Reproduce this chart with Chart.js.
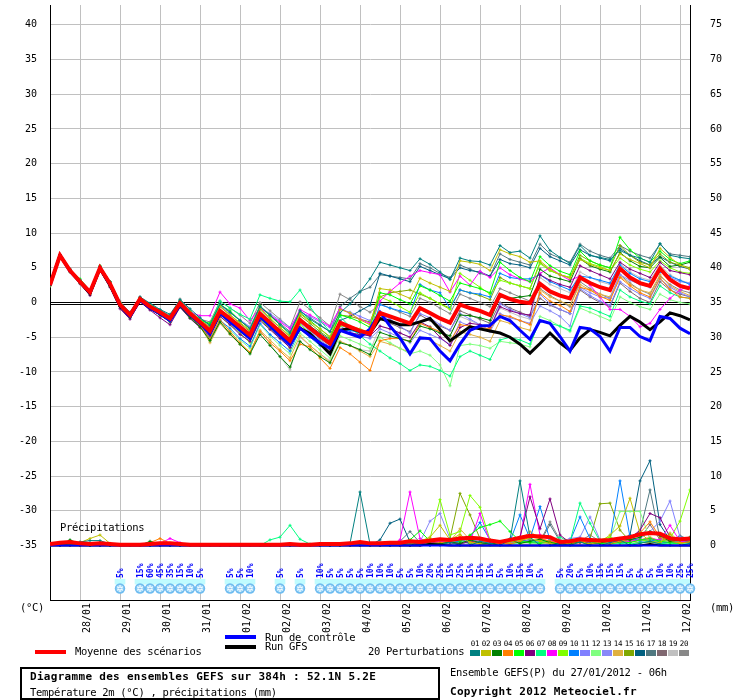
<!DOCTYPE html>
<html lang="fr"><head><meta charset="utf-8"><title>GEFS</title>
<script src="https://cdn.jsdelivr.net/npm/chart.js@4.4.1/dist/chart.umd.min.js"></script>
<style>
html,body{margin:0;padding:0;background:#fff;}
#wrap{position:relative;width:740px;height:700px;overflow:hidden;font-family:"DejaVu Sans Mono",monospace;color:#000;}
#c{position:absolute;left:0;top:0;}
.t{position:absolute;white-space:pre;font-size:10.5px;line-height:12px;letter-spacing:-0.3px;}
.b{font-weight:bold;font-size:11px;letter-spacing:0.3px;}
.sw{position:absolute;}
.box{position:absolute;left:20px;top:667px;width:420px;height:33px;border:2px solid #000;box-sizing:border-box;}
.num{position:absolute;top:640px;font-size:7.5px;line-height:8px;width:11px;text-align:center;letter-spacing:-0.3px;}
.cb{position:absolute;top:650px;width:10px;height:6px;}
</style></head><body>
<div id="wrap">
<canvas id="c" width="740" height="700"></canvas>
<div class="t" style="left:60px;top:521px">Précipitations</div>
<div class="t" style="left:20px;top:601px">(°C)</div>
<div class="t" style="left:710px;top:601px">(mm)</div>
<div class="sw" style="left:225px;top:635px;width:31px;height:4px;background:#0000ff"></div>
<div class="t" style="left:265px;top:631px">Run de contrôle</div>
<div class="sw" style="left:225px;top:645px;width:31px;height:4px;background:#000"></div>
<div class="t" style="left:265px;top:640px">Run GFS</div>
<div class="sw" style="left:35px;top:650px;width:31px;height:4px;background:#ff0000"></div>
<div class="t" style="left:75px;top:645px">Moyenne des scénarios</div>
<div class="t" style="left:368px;top:645px">20 Perturbations</div>
<div id="pleg"></div>
<div class="box"></div>
<div class="t b" style="left:30px;top:671px">Diagramme des ensembles GEFS sur 384h : 52.1N 5.2E</div>
<div class="t" style="left:30px;top:686px">Température 2m (°C) , précipitations (mm)</div>
<div class="t" style="left:450px;top:666px">Ensemble GEFS(P) du 27/01/2012 - 06h</div>
<div class="t b" style="left:450px;top:686px">Copyright 2012 Meteociel.fr</div>
</div>
<script>
// ---------- axis ticks / labels ----------
const dayLabels = ["28/01","29/01","30/01","31/01","01/02","02/02","03/02","04/02","05/02","06/02","07/02","08/02","09/02","10/02","11/02","12/02"];
const dayTickSteps = [3,7,11,15,19,23,27,31,35,39,43,47,51,55,59,63];
const tempTicks = [-35,-30,-25,-20,-15,-10,-5,0,5,10,15,20,25,30,35,40];
const precipTicks = [0,5,10,15,20,25,30,35,40,45,50,55,60,65,70,75];

// ---------- temperature (°C), 6-hourly, 65 steps ----------
const MEAN_T = [2.5,6.8,4.6,3.0,1.5,5.0,2.7,-0.3,-1.8,0.5,-0.6,-1.4,-2.3,-0.1,-1.6,-2.8,
 -4.1,-1.2,-2.3,-3.5,-4.7,-1.6,-2.9,-4.2,-5.5,-2.5,-3.7,-4.8,-5.9,-2.9,-3.5,-4.1,-4.5,
 -1.5,-2.0,-2.5,-3.0,-0.8,-1.5,-2.3,-2.9,-0.3,-0.8,-1.2,-1.8,1.1,0.5,0.1,-0.1,
 2.7,1.6,1.0,0.6,3.6,2.8,2.2,1.8,4.9,3.6,2.8,2.4,4.9,3.3,2.4,2.0];
const CONTROL_T = [2.5,6.8,4.5,3.0,1.4,5.0,2.6,-0.4,-2.0,0.4,-0.8,-1.6,-2.6,-0.3,-1.8,-3.0,
 -4.5,-1.5,-2.8,-4.0,-5.2,-2.0,-3.4,-4.8,-6.1,-3.7,-4.8,-5.8,-6.6,-4.0,-4.5,-5.0,-3.8,
 -1.4,-3.4,-5.1,-7.4,-5.1,-5.2,-7.0,-8.4,-6.0,-4.0,-3.4,-3.3,-2.0,-2.6,-4.0,-5.3,
 -2.6,-3.0,-4.9,-7.0,-3.6,-3.8,-4.9,-7.0,-3.6,-3.6,-4.9,-5.5,-2.0,-2.3,-3.7,-4.5];
const GFS_T = [2.5,6.8,4.6,2.9,1.3,4.9,2.5,-0.5,-2.0,0.4,-0.8,-1.6,-2.5,-0.3,-1.8,-3.0,
 -4.3,-1.5,-2.6,-3.8,-5.0,-2.0,-3.3,-4.6,-5.9,-3.7,-4.5,-5.9,-7.4,-4.0,-3.7,-4.2,-4.4,
 -2.3,-2.7,-3.2,-3.2,-2.8,-2.3,-3.9,-5.5,-4.5,-3.5,-3.8,-4.1,-4.4,-5.0,-6.0,-7.3,
 -5.9,-4.4,-5.8,-6.9,-5.1,-3.9,-4.3,-4.8,-3.3,-2.0,-2.8,-3.9,-2.8,-1.5,-1.9,-2.5];

const M01 = [2.5,6.8,4.7,3.2,1.8,5.2,3.0,-0.1,-1.4,0.8,-0.1,-1.0,-1.7,0.4,-0.9,-2.2,
 -3.3,-0.2,-1.4,-2.6,-3.8,-0.6,-1.8,-3.2,-4.4,-1.2,-2.4,-3.3,-4.2,-1.5,-0.2,1.5,3.4,
 5.8,5.4,5.0,4.6,6.3,5.5,4.4,3.3,6.4,6.0,5.9,5.4,8.2,7.2,7.4,6.4,
 9.6,7.5,6.5,5.6,8.2,6.8,6.5,6.2,7.5,6.8,6.4,5.8,8.5,6.8,6.5,6.3];
const M02 = [2.4,6.7,4.5,3.1,1.6,5.1,2.9,-0.2,-1.9,0.6,-0.4,-1.3,-2.0,0.1,-1.3,-2.5,
 -3.5,-0.5,-1.8,-2.9,-4.0,-0.8,-2.2,-3.6,-4.8,-1.6,-2.8,-3.8,-4.9,-1.0,-1.5,-2.5,-3.2,
 2.0,1.8,1.2,0.6,3.5,2.8,2.2,1.6,6.0,5.8,5.5,4.6,7.6,7.0,6.6,5.8,
 6.0,4.8,4.0,3.5,6.2,5.5,5.0,4.6,7.0,6.2,5.6,5.0,7.8,6.5,5.4,4.8];
const M03 = [2.5,6.6,4.4,2.8,1.2,4.7,2.3,-0.6,-2.2,0.2,-0.9,-1.8,-2.8,-0.6,-2.2,-3.5,
 -5.5,-2.8,-4.5,-6.0,-7.4,-4.6,-6.2,-7.8,-9.3,-5.6,-6.8,-7.8,-8.7,-5.8,-6.2,-6.8,-7.5,
 -4.3,-4.8,-5.2,-5.6,-3.4,-3.8,-4.4,-4.8,-1.8,-1.9,-2.2,-2.6,0.8,0.6,0.8,1.0,
 4.8,3.8,3.4,3.0,6.3,5.3,4.8,4.4,7.2,6.0,5.2,5.0,6.5,5.2,5.4,5.8];
const M04 = [2.5,6.7,4.5,2.9,1.3,4.8,2.5,-0.5,-2.1,0.3,-0.8,-1.7,-2.6,-0.4,-2.0,-3.3,
 -5.3,-2.5,-4.2,-5.8,-7.2,-4.2,-5.8,-7.0,-8.4,-6.0,-6.4,-8.0,-9.5,-6.5,-7.4,-8.6,-9.8,
 -5.5,-5.2,-5.2,-5.6,-3.0,-3.6,-4.2,-5.6,-3.2,-3.4,-3.6,-3.8,-1.8,-2.0,-2.6,-3.2,
 1.4,0.2,-0.4,-1.3,2.2,1.8,0.9,0.3,3.6,2.4,1.4,0.8,3.5,1.9,0.8,0.6];
const M05 = [2.5,6.9,4.8,3.4,1.7,5.3,3.0,0.0,-1.6,0.7,-0.3,-1.2,-2.1,0.3,-1.4,-2.6,
 -3.0,-0.3,-1.2,-2.6,-3.8,-0.5,-1.9,-3.2,-4.6,-1.5,-2.6,-3.8,-5.0,-1.8,-2.2,-2.8,-3.6,
 1.4,1.1,0.4,-0.2,2.4,1.8,1.0,0.2,2.8,2.4,2.0,1.4,5.8,4.6,3.6,3.0,
 6.6,5.3,4.5,4.0,7.4,6.0,5.4,5.0,9.4,7.6,6.4,5.8,7.4,6.2,5.6,6.0];
const M06 = [2.4,6.7,4.5,2.7,1.0,4.6,2.2,-0.9,-2.4,0.1,-1.1,-2.2,-3.2,-0.7,-2.3,-3.6,
 -4.8,-2.0,-3.2,-4.6,-5.6,-2.6,-3.9,-5.2,-6.5,-3.6,-4.6,-5.8,-6.8,-4.0,-4.4,-4.6,-4.8,
 -3.4,-3.8,-4.4,-5.0,-2.8,-3.5,-5.0,-6.2,-3.6,-3.0,-3.2,-3.6,-0.6,-1.2,-1.6,-1.8,
 4.0,3.2,2.6,2.2,5.3,4.6,4.0,3.4,5.8,4.8,4.2,3.6,5.8,4.6,4.3,4.0];
const M07 = [2.5,6.8,4.6,3.1,1.6,5.0,2.8,-0.2,-1.7,0.6,-0.5,-1.2,-2.0,0.1,-1.3,-2.4,
 -3.2,0.2,-0.8,-1.7,-2.4,1.1,0.6,0.2,0.1,1.8,-0.6,-2.6,-4.2,-2.0,-3.5,-4.8,-6.0,
 -7.0,-8.0,-8.8,-9.8,-9.0,-9.2,-9.8,-10.6,-7.8,-7.0,-7.6,-8.2,-5.4,-5.0,-5.4,-6.0,
 -2.6,-3.0,-3.4,-4.0,-0.5,-0.8,-1.4,-2.0,1.8,0.8,0.2,-0.2,2.4,1.4,0.8,0.6];
const M08 = [2.6,6.9,4.8,3.2,1.6,5.2,2.9,-0.1,-1.6,0.7,-0.4,-1.2,-2.0,0.2,-1.4,-1.9,
 -1.9,1.5,-0.2,-0.8,-2.6,-0.8,-1.8,-2.8,-3.8,-1.0,-1.8,-2.6,-3.4,-0.8,-1.6,-2.4,-3.0,
 0.2,1.6,2.8,3.8,4.6,4.3,4.0,1.5,3.8,2.5,4.5,3.6,5.0,4.0,3.4,3.0,
 4.2,5.0,4.0,3.2,3.8,2.5,0.8,-1.0,-1.0,-2.0,-3.5,-3.0,-1.0,0.6,1.8,2.4];
const M09 = [2.5,6.8,4.6,3.0,1.5,5.0,2.6,-0.3,-1.9,0.4,-0.7,-1.5,-2.4,-0.2,-1.7,-3.0,
 -4.8,-2.0,-3.2,-4.4,-5.8,-2.4,-3.8,-5.0,-6.6,-3.2,-4.4,-5.6,-6.8,-3.4,-3.4,-3.8,-4.4,
 0.8,0.2,-0.6,-1.4,1.4,0.6,-0.2,-1.0,4.2,3.2,2.2,1.2,3.2,2.8,2.4,2.0,
 5.6,4.6,4.0,3.6,6.4,5.6,5.2,4.6,6.4,5.4,4.8,4.4,6.0,5.0,4.4,4.2];
const M10 = [2.5,6.8,4.5,2.9,1.4,4.9,2.5,-0.5,-2.0,0.3,-0.9,-1.7,-2.6,-0.4,-2.0,-3.1,
 -5.2,-2.6,-3.7,-5.2,-6.3,-3.0,-4.6,-5.8,-7.0,-3.8,-5.0,-6.2,-7.2,-4.2,-4.0,-4.4,-4.8,
 -0.3,-0.8,-1.2,-1.6,2.6,1.8,1.4,-0.8,1.8,1.4,1.2,0.8,4.2,3.6,3.4,3.4,
 4.0,3.0,2.4,1.8,3.8,3.6,3.2,2.8,5.4,4.2,3.4,3.0,4.4,3.8,3.2,2.6];
const M11 = [2.6,6.9,4.7,3.1,1.6,5.1,2.8,-0.2,-1.7,0.6,-0.5,-1.3,-2.1,0.0,-1.5,-2.7,
 -3.3,-0.5,-1.5,-2.5,-3.5,-0.7,-1.6,-2.6,-3.6,-1.4,-2.0,-2.8,-3.6,-1.0,-1.4,-2.0,-2.6,
 -1.6,-2.4,-3.4,-4.4,-1.6,-2.2,-3.2,-4.0,-1.6,-2.4,-3.2,-4.0,-0.2,-1.0,-1.6,-2.2,
 1.2,-0.2,-1.0,-1.6,2.0,1.0,0.2,-0.4,3.0,2.0,1.2,0.6,3.4,2.2,1.4,0.8];
const M12 = [2.4,6.7,4.5,2.9,1.4,4.9,2.6,-0.4,-1.9,0.4,-0.7,-1.5,-2.5,-0.3,-1.8,-3.0,
 -5.4,-2.8,-4.0,-5.4,-6.6,-3.2,-4.8,-6.2,-7.4,-4.4,-5.6,-6.8,-8.0,-4.8,-5.4,-6.0,-6.6,
 -5.0,-5.8,-6.6,-7.4,-7.0,-7.6,-9.0,-12.0,-6.2,-6.0,-6.2,-6.6,-5.6,-5.8,-6.0,-6.4,
 -2.0,-2.6,-3.4,-4.2,-0.8,-1.4,-2.0,-2.6,0.8,0.0,-0.6,-1.0,1.2,0.4,0.0,-0.2];
const M13 = [2.5,6.8,4.6,3.0,1.4,5.0,2.7,-0.4,-2.0,0.4,-0.7,-1.6,-2.6,-0.3,-1.9,-3.2,
 -4.6,-1.8,-2.9,-4.0,-5.2,-2.2,-3.4,-4.8,-6.0,-3.0,-4.2,-5.4,-6.4,-3.4,-4.2,-4.8,-5.2,
 -3.8,-4.4,-5.0,-5.8,-4.0,-4.6,-5.2,-6.0,-2.8,-3.4,-3.8,-4.2,-1.6,-2.2,-2.6,-3.0,
 -0.5,-1.2,-2.0,-3.4,2.2,1.4,0.8,0.6,4.0,3.2,2.6,2.2,4.6,3.6,3.0,2.8];
const M14 = [2.5,6.7,4.4,2.8,1.3,4.8,2.4,-0.6,-2.1,0.2,-0.9,-1.8,-2.7,-0.5,-2.1,-3.4,
 -5.8,-3.0,-4.6,-6.0,-7.2,-4.0,-5.4,-6.8,-8.0,-4.8,-6.2,-7.4,-8.6,-5.6,-6.2,-7.0,-7.8,
 -5.6,-6.0,-6.6,-7.2,-5.0,-5.4,-6.2,-7.0,-4.2,-4.6,-5.0,-5.6,-2.6,-3.0,-3.6,-4.0,
 1.8,0.8,0.2,-0.4,2.6,1.8,1.2,0.8,3.8,2.6,1.8,1.4,4.0,2.4,1.6,1.0];
const M15 = [2.5,6.8,4.7,3.1,1.6,5.1,2.8,-0.2,-1.7,0.6,-0.5,-1.3,-2.2,0.0,-1.5,-2.6,
 -3.6,-0.6,-1.8,-3.0,-4.2,-1.0,-2.4,-3.6,-5.0,-1.9,-3.0,-4.2,-5.2,-1.8,-2.0,-2.4,-2.8,
 0.8,1.4,1.6,1.8,1.2,0.6,-0.2,-0.8,1.8,1.4,1.0,0.4,3.6,2.8,2.4,2.0,
 5.8,4.6,4.0,3.6,6.8,6.0,5.4,5.0,8.2,6.8,5.8,5.4,7.0,5.8,5.4,5.0];
const M16 = [2.5,6.8,4.7,3.2,1.7,5.1,2.9,-0.1,-1.6,0.6,-0.4,-1.2,-2.1,0.1,-1.3,-2.5,
 -3.9,-1.3,-2.4,-3.6,-4.6,-1.6,-2.8,-4.0,-5.2,-2.4,-3.4,-4.4,-5.4,-2.6,-2.0,-1.2,-0.4,
 4.2,3.8,3.4,3.0,5.2,4.6,4.0,3.4,5.0,4.6,4.4,3.8,6.2,5.6,5.4,5.0,
 7.8,6.6,6.0,5.4,7.6,6.8,6.4,6.0,7.8,6.8,6.0,5.4,6.6,5.8,5.2,4.8];
const M17 = [2.6,6.9,4.8,3.3,1.8,5.2,3.0,0.0,-1.5,0.7,-0.3,-1.1,-1.9,0.2,-1.2,-2.4,
 -3.2,-0.3,-1.4,-2.6,-3.6,-0.5,-1.8,-3.0,-4.2,-1.2,-2.2,-3.2,-4.2,-0.6,0.6,1.6,2.2,
 4.0,3.8,3.6,3.4,5.6,5.0,4.2,3.6,5.4,4.8,4.2,3.8,7.0,6.2,5.8,5.4,
 8.4,7.0,6.4,5.8,8.4,7.4,6.8,6.4,8.2,7.4,6.8,6.4,8.4,7.0,6.8,6.6];
const M18 = [2.5,6.8,4.6,3.0,1.5,5.0,2.6,-0.4,-1.9,0.5,-0.6,-1.5,-2.4,-0.2,-1.7,-2.9,
 -4.5,-1.6,-2.8,-4.0,-5.2,-2.0,-3.4,-4.6,-5.8,-2.8,-4.0,-5.2,-6.2,-3.2,-3.8,-4.2,-4.4,
 -2.4,-3.0,-3.6,-4.2,-1.8,-2.6,-3.4,-4.0,-1.2,-1.8,-2.4,-3.0,0.0,-0.8,-1.4,-2.0,
 0.6,-0.4,-1.0,-1.6,1.8,0.8,0.0,-0.6,2.8,1.6,0.6,0.0,3.0,1.8,1.2,0.8];
const M19 = [2.5,6.8,4.5,2.9,1.4,4.9,2.5,-0.5,-2.0,0.4,-0.8,-1.7,-2.6,-0.4,-2.0,-3.3,
 -5.0,-2.4,-4.2,-6.0,-7.2,-4.0,-6.0,-7.8,-9.7,-5.0,-6.2,-7.4,-8.4,-5.6,-6.2,-6.8,-7.0,
 -3.4,-3.8,-4.4,-5.0,-3.0,-3.6,-4.2,-4.8,-2.0,-2.6,-3.2,-3.6,-0.8,-1.4,-2.0,-2.4,
 3.6,2.6,2.0,1.4,4.4,3.6,3.0,2.6,5.6,4.4,3.6,3.2,5.4,4.0,3.2,2.8];
const M20 = [2.6,6.9,4.8,3.2,1.7,5.2,2.9,0.2,-1.5,0.8,-0.3,-1.1,-2.0,0.5,-1.2,-2.4,
 -2.8,0.2,-0.8,-1.8,-3.0,0.0,-1.2,-2.4,-3.6,0.1,-1.0,-2.2,-3.4,1.2,0.4,-0.6,-1.4,
 -0.2,-0.8,-1.4,-2.0,0.6,0.0,-0.8,-1.6,1.2,0.6,0.0,-0.6,2.0,1.4,0.8,0.2,
 2.0,1.0,0.2,-0.6,3.0,2.0,1.2,0.6,4.0,2.8,1.8,1.2,3.8,2.6,1.8,1.4];

// ---------- precipitation (mm) ----------
const MEAN_P = [0.2,0.4,0.5,0.3,0.2,0.3,0.2,0.1,0.1,0.1,0.2,0.3,0.3,0.2,0.1,0.1,
 0.1,0.1,0.1,0.1,0.1,0.1,0.1,0.1,0.2,0.1,0.1,0.2,0.2,0.2,0.3,0.5,
 0.3,0.3,0.4,0.4,0.6,0.5,0.7,0.9,0.8,1.0,1.1,1.0,0.7,0.5,0.8,1.1,
 1.4,1.3,1.2,0.5,0.6,0.9,0.8,0.7,0.8,1.0,1.2,1.6,1.8,1.7,1.0,0.9,
 1.0];
const CONTROL_P = [0,0,0,0,0,0,0,0,0,0,0,0,0,0,0,0,
 0,0,0,0,0,0,0,0,0,0,0,0,0,0,0,0,
 0,0,0,0,0,0,0,0,0,0,0,0,0,0,0,0,
 0,0,0,0,0,0,0,0,0,0,0,0,0,0,0,0,
 0];
const GFS_P = [0,0,0,0,0,0,0,0,0,0,0,0,0,0,0,0,
 0,0,0,0,0,0,0,0,0,0,0,0,0,0,0,0,
 0,0,0,0,0,0,0.2,0.1,0,0,0,0,0,0,0,0,
 0,0,0,0,0,0,0,0,0,0,0,0,0.2,0,0,0,
 0];
const P01 = [0,0,0.3,0.5,0.7,0.7,0.2,0,0,0,0,0,0,0,0,0,
 0,0,0,0,0,0,0,0,0,0,0,0,0,0,0.3,7.7,
 0.2,0,0,0,0.4,0.2,0,0,0.5,0,0,0.6,0.3,0,0.8,9.3,
 1.2,0,0,0.3,0,0.5,0,0,0.4,0.8,0,0.3,0.6,0.2,0,0,
 0.3];
const P02 = [0,0,0,0.4,1.0,1.5,0.3,0,0,0,0,0,0,0,0,0,
 0,0,0,0,0,0,0,0,0,0,0,0,0,0,0,0,
 0,0,0,0,0.2,0.6,1.2,2.9,0.8,1.6,0.4,0.2,0,0.3,0.5,0.8,
 1.0,0.6,0.3,0,0.4,0.6,0.2,0.5,1.5,2.8,6.8,1.8,0.6,0.4,1.6,0.3,
 0];
const P03 = [0,0,0.8,0.2,0,0,0,0,0,0,0.6,0.1,0,0,0,0,
 0,0,0,0,0,0,0,0,0,0,0,0,0,0,0,0,
 0,0,0,0,0,0.6,0.3,0.2,0.5,0.3,0.8,0.4,0.2,0.4,0.8,0.3,
 0.6,0.9,0.4,0.2,0.3,0.5,0.2,0.4,0.6,1.0,0.8,1.2,2.0,1.4,0.6,0.8,
 1.2];
const P04 = [0,0,0,0,0,0,0,0,0,0,0.4,1.0,0.3,0,0,0,
 0,0,0,0,0,0,0,0,0,0,0,0,0,0,0,0,
 0,0,0,0,0,0,0.3,0.4,0.6,1.3,0.5,0.3,0.8,0.4,0.2,0.6,
 1.2,1.0,0.6,0.3,0.2,0.4,0.8,0.5,0.3,0.6,0.9,1.8,3.4,1.2,0.6,0.4,
 0.5];
const P05 = [0,0,0.2,0,0,0,0,0,0,0,0,0,0,0,0,0,
 0,0,0,0,0,0,0,0,0,0,0,0,0,0,0,0,
 0,0,0,0.3,0.8,2.1,0.6,0.8,1.0,0.6,1.5,2.6,3.0,3.5,2.0,0.6,
 0.4,0.3,0.5,0.2,0.4,0.8,0.6,0.3,0.2,0.5,0.4,0.8,1.0,0.6,0.4,0.3,
 0.5];
const P06 = [0,0,0,0,0,0,0,0,0,0,0,0,0.2,0,0,0,
 0,0,0,0,0,0,0,0,0,0,0,0,0,0,0,0,
 0,0,0,0,0,0.2,0.5,0.3,0.4,0.2,0.6,0.4,0.3,0.5,0.8,1.2,
 7.0,2.4,6.7,1.5,0.4,0.6,0.3,0.4,0.8,0.5,1.0,2.2,4.6,4.0,1.2,0.8,
 0.6];
const P07 = [0,0,0,0,0,0,0,0,0,0,0,0,0,0,0,0,
 0,0,0,0,0,0,0.8,1.2,2.9,0.9,0.2,0,0,0,0,0,
 0,0,0,0,0,0,0,0.3,0.5,0.8,0.4,0.3,0.2,0.5,0.3,0.4,
 0.6,0.4,0.8,1.2,0.5,6.1,3.2,0.6,0.4,0.3,0.2,0.4,0.6,0.3,0.2,0.4,
 0.3];
const P08 = [0,0,0,0,0,0,0,0,0,0,0,0.3,1.0,0.4,0,0,
 0,0,0,0,0,0,0,0,0,0,0,0,0,0,0,0,
 0,0,0,0.8,7.7,1.0,0.4,0.6,0.5,0.8,0.5,4.6,0.5,0.3,0.4,1.0,
 8.8,1.5,0.8,0.3,0.5,0.4,0.6,0.8,0.5,0.4,0.6,0.8,1.0,0.8,2.9,0.6,
 0.4];
const P09 = [0,0,0,0,0,0,0,0,0,0,0,0,0,0,0,0,
 0,0,0,0,0,0,0,0,0,0,0,0,0,0,0,0,
 0,0,0,0,0,0.2,1.0,6.6,1.5,2.0,7.2,5.5,0.8,0.4,0.6,0.3,
 0.5,0.8,0.4,0.3,0.6,0.5,0.3,0.8,1.2,0.6,0.5,0.8,0.6,0.4,1.0,3.5,
 8.0];
const P10 = [0,0,0,0,0,0,0,0,0,0,0,0,0,0,0,0,
 0,0,0,0,0,0,0,0,0,0,0,0,0,0,0,0,
 0,0,0,0,0,0,0.3,0.5,0.4,0.6,1.2,3.3,0.8,0.5,0.6,4.4,
 1.0,5.6,0.8,0.4,0.6,4.1,1.0,0.5,0.8,9.3,1.2,0.6,0.8,0.5,0.4,0.6,
 0.5];
const P11 = [0,0,0,0,0,0,0,0,0,0,0,0,0,0,0,0,
 0,0,0,0,0,0,0,0,0,0,0,0,0,0,0,0,
 0,0,0,0,0,0,0.4,0.6,0.5,0.3,0.6,0.8,0.5,0.3,0.4,0.6,
 0.4,0.6,0.3,0.5,0.8,0.6,0.4,0.3,0.6,0.8,0.5,1.0,2.0,3.5,6.4,1.2,
 0.6];
const P12 = [0,0,0,0,0,0,0,0,0,0,0,0,0,0,0,0,
 0,0,0,0,0,0,0,0,0,0,0,0,0,0,0,0,
 0,0,0,0,0,0,0,0.4,0.3,0.5,0.6,0.4,0.3,0.5,0.8,0.6,
 0.4,0.5,0.8,0.3,0.6,0.4,0.5,0.8,1.0,4.9,4.9,4.9,0.8,0.6,0.4,0.3,
 0.5];
const P13 = [0,0,0,0,0,0,0,0,0,0,0,0,0,0,0,0,
 0,0,0,0,0,0,0,0,0,0,0,0,0,0,0,0,
 0,0,0,0,0,0.5,3.5,4.6,1.0,0.8,0.5,0.6,0.4,0.3,0.6,0.5,
 0.8,0.6,0.4,0.5,1.0,1.2,4.1,0.8,0.6,0.4,0.5,0.8,0.6,0.4,0.8,0.5,
 0.4];
const P14 = [0,0,0,0,0,0,0,0,0,0,0,0.3,0.2,0,0,0,
 0,0,0,0,0,0,0,0,0,0,0,0,0,0,0,0,
 0,0,0,0,0,0,0.2,0.8,0.6,2.4,0.8,0.5,0.4,0.3,0.6,0.8,
 2.0,1.0,0.6,0.4,0.3,0.5,0.6,0.4,0.5,0.3,0.6,0.8,1.2,0.6,1.8,0.5,
 0.4];
const P15 = [0,0,0,0,0,0,0,0,0,0,0,0,0,0,0,0,
 0,0,0,0,0,0,0,0,0,0,0,0,0,0,0,0,
 0,0,0,0,0,0,0.3,0.5,1.0,7.5,4.4,1.0,0.6,0.4,0.3,0.5,
 0.6,0.4,0.3,0.5,0.4,0.6,1.0,6.0,6.1,2.2,0.6,0.4,0.5,0.3,0.4,0.6,
 0.5];
const P16 = [0,0,0,0,0.3,0.4,0,0,0,0,0,0,0,0,0,0,
 0,0,0,0,0,0,0,0,0,0,0,0,0,0,0,0,
 0,0.8,3.2,3.8,0.5,0.2,0,0.3,0.4,0.6,0.3,0.5,0.4,0.3,0.4,0.6,
 0.8,0.5,0.4,0.3,0.6,0.8,0.5,0.4,0.6,0.8,1.5,9.3,12.2,3.0,0.8,0.5,
 0.4];
const P17 = [0,0,0,0,0,0,0,0,0,0,0,0,0,0,0,0,
 0,0,0,0,0,0,0,0,0,0,0,0,0,0,0,0,
 0,0,0,0.6,2.0,0.4,0.3,0.4,0.2,0.5,0.4,0.6,0.8,0.5,1.0,0.6,
 0.8,0.5,3.0,0.6,0.4,0.5,0.8,0.6,0.4,1.0,1.2,2.0,8.0,1.0,0.6,1.4,
 0.8];
const P18 = [0,0,0,0,0,0,0,0,0,0,0,0,0,0,0,0,
 0,0,0,0,0,0,0,0,0,0,0,0,0,0,0,0,
 0,0,0,0,0,0,0.2,0.3,0.4,0.3,0.5,0.4,0.3,0.5,0.4,0.6,
 0.5,0.4,0.6,0.3,0.5,0.4,0.6,0.5,0.4,0.6,0.8,1.0,3.0,0.8,0.6,0.5,
 0.4];
const P19 = [0,0,0,0,0,0,0,0,0,0,0,0,0,0,0,0,
 0,0,0,0,0,0,0,0,0,0,0,0,0,0,0,0,
 0,0,0,0,0,0,0.2,0.3,0.2,0.4,0.3,0.5,0.4,0.3,0.2,0.4,
 0.3,0.5,0.4,0.3,0.2,0.4,0.3,0.5,0.4,0.3,0.6,0.5,0.4,0.3,0.5,0.4,
 0.3];
const P20 = [0,0,0,0,0,0,0,0,0,0,0,0,0,0,0,0,
 0,0,0,0,0,0,0,0,0,0,0,0,0,0,0,0,
 0,0,0,0,0.3,0.2,0.4,0.5,0.3,0.6,0.4,0.3,0.5,0.4,0.6,0.5,
 0.8,0.6,3.4,0.8,0.5,0.6,1.5,0.6,0.4,0.5,0.6,0.8,1.0,0.6,0.4,0.8,
 0.6];

// ---------- snow probability (%) ----------
const SNOW_PCT = [0,0,0,0,0,0,0,5,0,15,60,45,35,15,10,5,
 0,0,5,5,10,0,0,5,0,5,0,10,5,5,5,5,
 10,10,10,5,5,10,20,25,15,25,15,15,15,5,10,15,
 10,5,0,5,20,5,10,15,15,15,5,5,5,10,10,25,
 25];

const memberColors = ['#008080','#c0c000','#008000','#ff8000','#00ff00','#800080','#00ff80','#ff00ff','#80ff00','#0080ff',
 '#8080ff','#80ff80','#8888f8','#e0b040','#80a800','#006080','#507880','#806870','#c0c0c0','#888888'];
const membersT = [M01,M02,M03,M04,M05,M06,M07,M08,M09,M10,M11,M12,M13,M14,M15,M16,M17,M18,M19,M20];
const membersP = [P01,P02,P03,P04,P05,P06,P07,P08,P09,P10,P11,P12,P13,P14,P15,P16,P17,P18,P19,P20];

// ---------- chart ----------
const T_MIN = -42.86, T_MAX = 42.86;
const steps = MEAN_T.map((_, i) => i);

Chart.defaults.font.family = "'DejaVu Sans Mono', monospace";
Chart.defaults.font.size = 10;
Chart.defaults.color = '#000';

const datasets = [];
datasets.push({data: MEAN_T, yAxisID:'y', borderColor:'#ff0000', borderWidth:4, pointRadius:0});
datasets.push({data: MEAN_P, yAxisID:'yP', borderColor:'#ff0000', borderWidth:4, pointRadius:0});
datasets.push({data: CONTROL_T, yAxisID:'y', borderColor:'#0000ff', borderWidth:3, pointRadius:0});
datasets.push({data: GFS_T, yAxisID:'y', borderColor:'#000000', borderWidth:3, pointRadius:0});
datasets.push({data: CONTROL_P, yAxisID:'yP', borderColor:'#0000ff', borderWidth:2, pointRadius:0});
datasets.push({data: GFS_P, yAxisID:'yP', borderColor:'#000000', borderWidth:2, pointRadius:0});
membersT.forEach((arr, k) => datasets.push({data: arr, yAxisID:'y', borderColor: memberColors[k], borderWidth:1,
  pointStyle:'cross', pointRadius:1.5, pointBorderWidth:1, pointBorderColor: memberColors[k]}));
membersP.forEach((arr, k) => datasets.push({data: arr, yAxisID:'yP', borderColor: memberColors[k], borderWidth:1,
  pointStyle:'cross', pointRadius:1.5, pointBorderWidth:1, pointBorderColor: memberColors[k]}));
// light cyan band behind each snow risk step (constant height)
datasets.push({type:'bar', data: SNOW_PCT.map(p => (p > 0 ? 1 : null)), yAxisID:'ySnow', backgroundColor:'#c0fcff', borderWidth:0,
  barPercentage:1, categoryPercentage:1});

const overlay = {
  id:'overlay',
  beforeDatasetsDraw(chart){
    const {ctx, chartArea:a, scales:{y}} = chart;
    const p = Math.round(y.getPixelForValue(0));
    ctx.save(); ctx.strokeStyle = '#000'; ctx.lineWidth = 1;
    [p - 0.5, p + 1.5].forEach(yy => { ctx.beginPath(); ctx.moveTo(a.left, yy); ctx.lineTo(a.right, yy); ctx.stroke(); });
    ctx.restore();
  },
  afterDatasetsDraw(chart){
    const {ctx, chartArea:a, scales:{x}} = chart;
    const fy = a.bottom - 11.5, ty = a.bottom - 22;
    SNOW_PCT.forEach((p, i) => {
      if (!p) return;
      const cx = Math.round(x.getPixelForValue(i));
      ctx.save();
      ctx.fillStyle = '#6fbcf0';
      ctx.beginPath(); ctx.arc(cx, fy, 5.2, 0, Math.PI * 2); ctx.fill();
      ctx.fillStyle = '#a8dcfa';
      ctx.beginPath(); ctx.arc(cx, fy, 3.4, 0, Math.PI * 2); ctx.fill();
      ctx.strokeStyle = '#ffffff'; ctx.lineWidth = 1;
      for (let k = 0; k < 3; k++) {
        const ang = Math.PI / 2 + k * Math.PI / 3;
        ctx.beginPath();
        ctx.moveTo(cx - 3.6 * Math.cos(ang), fy - 3.6 * Math.sin(ang));
        ctx.lineTo(cx + 3.6 * Math.cos(ang), fy + 3.6 * Math.sin(ang));
        ctx.stroke();
      }
      ctx.fillStyle = '#3a8ad0';
      ctx.fillRect(cx - 0.5, fy - 0.5, 1, 1);
      ctx.translate(cx + 0.5, ty);
      ctx.rotate(-Math.PI / 2);
      ctx.font = "bold 8px 'DejaVu Sans Mono', monospace";
      ctx.fillStyle = '#0000ff';
      ctx.textAlign = 'left'; ctx.textBaseline = 'middle';
      ctx.fillText(p + '%', 0, 0);
      ctx.restore();
    });
  }
};

new Chart(document.getElementById('c'), {
  type:'line',
  data:{labels: steps, datasets},
  options:{
    responsive:false, animation:false, devicePixelRatio:1,
    layout:{padding:0},
    elements:{line:{tension:0}},
    plugins:{legend:{display:false}, tooltip:{enabled:false}},
    scales:{
      x:{type:'linear', min:0, max:64, position:'bottom', offset:false,
        afterBuildTicks: s => { s.ticks = dayTickSteps.map(v => ({value:v})); },
        afterFit: s => { s.height = 100; s.paddingLeft = 0; s.paddingRight = 0; },
        grid:{color:'#c0c0c0', drawTicks:false, offset:false},
        border:{color:'#000', width:1},
        ticks:{autoSkip:false, minRotation:90, maxRotation:90, padding:3, labelOffset:7,
          callback:(v, i) => dayLabels[i]}},
      y:{type:'linear', position:'left', min:T_MIN, max:T_MAX,
        afterBuildTicks: s => { s.ticks = tempTicks.map(v => ({value:v})); },
        afterFit: s => { s.width = 50; s.paddingTop = 0; s.paddingBottom = 0; },
        grid:{color:'#c0c0c0', drawTicks:false},
        border:{color:'#000', width:1},
        ticks:{padding:13, callback: v => String(v)}},
      yP:{type:'linear', position:'right', min:T_MIN + 35, max:T_MAX + 35,
        afterBuildTicks: s => { s.ticks = precipTicks.map(v => ({value:v})); },
        afterFit: s => { s.width = 50; s.paddingTop = 0; s.paddingBottom = 0; },
        grid:{drawOnChartArea:false, drawTicks:false},
        border:{color:'#000', width:1},
        ticks:{padding:20, callback: v => String(v)}},
      ySnow:{type:'linear', display:false, min:-3.2, max:116.8}
    }
  },
  plugins:[overlay]
});

// perturbation colour legend
const pleg = document.getElementById('pleg');
memberColors.forEach((c, k) => {
  const x = 470 + 11 * k;
  const n = document.createElement('div'); n.className = 'num'; n.style.left = (x - 0.5) + 'px';
  n.textContent = String(k + 1).padStart(2, '0'); pleg.appendChild(n);
  const b = document.createElement('div'); b.className = 'cb'; b.style.left = x + 'px'; b.style.background = c;
  pleg.appendChild(b);
});
</script>
</body></html>
